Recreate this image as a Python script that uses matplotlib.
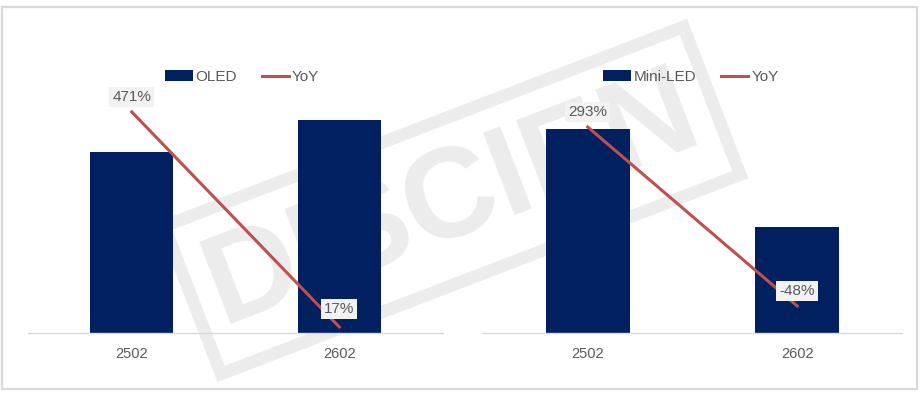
import matplotlib
matplotlib.use("Agg")
import matplotlib.pyplot as plt
from matplotlib.patches import Rectangle, Patch
from matplotlib.lines import Line2D

plt.rcParams['font.family'] = ['Liberation Sans', 'DejaVu Sans']

categories = ["2502", "2602"]
oled_values = [85, 100]
oled_yoy = [471, 17]
oled_yoy_labels = ["471%", "17%"]
mini_values = [100, 52]
mini_yoy = [293, -48]
mini_yoy_labels = ["293%", "-48%"]

NAVY = "#002060"
RED = "#C0504D"
GRAY_TXT = "#595959"

W, H = 923, 393
fig = plt.figure(figsize=(W / 100, H / 100), dpi=100)

def px_axes(x0, x1, ytop, ybot):
    return fig.add_axes([x0 / W, 1 - ybot / H, (x1 - x0) / W, (ybot - ytop) / H])

# outer border
fig.add_artist(Rectangle((2 / W, 1 - 389 / H), 915 / W, 382 / H, transform=fig.transFigure,
                         fill=False, edgecolor="#d9d9d9", linewidth=1.6, zorder=-2))

# watermark
fig.text(0.49, 0.49, "DISCIEN", transform=fig.transFigure, ha="center", va="center",
         fontsize=92, fontweight="bold", color="#ececec", rotation=21, zorder=-1,
         bbox=dict(boxstyle="square,pad=0.15", fc="none", ec="#ececec", lw=9))

def panel(x0, x1, values, yoy, labels, name, ylim_bar, ylim_yoy, leg_x, label_offsets):
    ax = px_axes(x0, x1, 20, 333)
    ax.set_facecolor("none")
    x = range(len(categories))
    ax.bar(x, values, width=0.4, color=NAVY, zorder=2)
    ax.set_xlim(-0.5, 1.5)
    ax.set_ylim(*ylim_bar)
    ax.set_xticks(list(x))
    ax.set_xticklabels(categories, color=GRAY_TXT, fontsize=10.5)
    ax.tick_params(axis="x", length=0, pad=10)
    ax.set_yticks([])
    for s in ["top", "left", "right"]:
        ax.spines[s].set_visible(False)
    ax.spines["bottom"].set_color("#d9d9d9")
    ax.spines["bottom"].set_linewidth(1.0)

    ax2 = ax.twinx()
    ax2.plot(list(x), yoy, color=RED, linewidth=2.2, zorder=3)
    ax2.set_ylim(*ylim_yoy)
    ax2.set_yticks([])
    for s in ["top", "left", "right", "bottom"]:
        ax2.spines[s].set_visible(False)
    for xi, yi, lab, off in zip(x, yoy, labels, label_offsets):
        ax2.annotate(lab, (xi, yi), xytext=(0, off), textcoords="offset points",
                     ha="center", va="center", fontsize=11, color=GRAY_TXT, zorder=5,
                     bbox=dict(boxstyle="square,pad=0.2", fc="#f2f2f2", ec="none"))

    handles = [Patch(facecolor=NAVY, edgecolor="none"),
               Line2D([0], [0], color=RED, linewidth=2.2)]
    fig.legend(handles, [name, "YoY"], loc="center left",
               bbox_to_anchor=(leg_x / W, 1 - 77 / H), ncol=2, frameon=False,
               fontsize=11, handlelength=1.8, handletextpad=0.2, columnspacing=1.6,
               labelcolor=GRAY_TXT, borderaxespad=0, borderpad=0)

panel(28, 443, oled_values, oled_yoy, oled_yoy_labels, "OLED",
      (0, 147), (4.2, 665), 165, [11, 13])
panel(483, 902, mini_values, mini_yoy, mini_yoy_labels, "Mini-LED",
      (0, 153.4), (-99.4, 496.8), 603, [11, 11])

fig.savefig("out.png", dpi=100)
